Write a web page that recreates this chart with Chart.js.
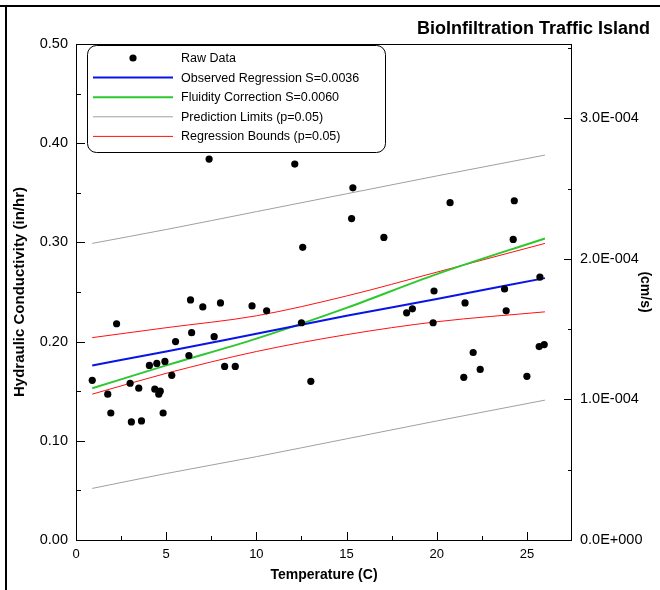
<!DOCTYPE html>
<html>
<head>
<meta charset="utf-8">
<script src="https://cdn.jsdelivr.net/npm/chart.js@4.4.1/dist/chart.umd.min.js"></script>
<style>
  html, body { margin: 0; padding: 0; background: #fff; }
  #wrap { width: 660px; height: 590px; }
</style>
</head>
<body>
<div id="wrap"><canvas id="chart" width="660" height="590"></canvas></div>
<script>
// raw measurements (temperature C, conductivity in/hr)
const tempC = [0.90, 1.76, 1.93, 2.25, 3.00, 3.07, 3.48, 3.63, 4.07, 4.37, 4.48, 4.59, 4.67, 4.83, 4.93,
  5.31, 5.52, 6.26, 6.35, 6.41, 7.03, 7.38, 7.66, 8.01, 8.24, 8.83, 9.76, 10.57, 12.13, 12.50, 12.57,
  13.02, 15.28, 15.35, 17.07, 18.33, 18.65, 19.80, 19.85, 20.74, 21.50, 21.57, 22.02, 22.41, 23.76,
  23.85, 24.24, 24.30, 25.00, 25.68, 25.72, 25.96];
const conductivity = [0.161, 0.147, 0.128, 0.218, 0.158, 0.119, 0.153, 0.120, 0.176, 0.152, 0.178, 0.147,
  0.150, 0.128, 0.180, 0.166, 0.200, 0.186, 0.242, 0.209, 0.235, 0.384, 0.205, 0.239, 0.175, 0.175,
  0.236, 0.231, 0.379, 0.219, 0.295, 0.160, 0.324, 0.355, 0.305, 0.229, 0.233, 0.219, 0.251, 0.340,
  0.164, 0.239, 0.189, 0.172, 0.253, 0.231, 0.303, 0.342, 0.165, 0.195, 0.265, 0.197];

// fitted curves, read at these temperatures
const curveTemps = [0.9, 5, 10, 15, 20, 26];
const observedFit = [0.176, 0.190, 0.208, 0.226, 0.243, 0.264];
const fluidityFit = [0.153, 0.176, 0.203, 0.234, 0.268, 0.304];
const predUpper = [0.299, 0.313, 0.331, 0.349, 0.367, 0.388];
const predLower = [0.052, 0.067, 0.084, 0.102, 0.120, 0.141];
const boundUpper = [0.204, 0.214, 0.226, 0.246, 0.270, 0.299];
const boundLower = [0.147, 0.168, 0.190, 0.207, 0.220, 0.230];

const seriesLabels = ['Raw Data', 'Observed Regression S=0.0036', 'Fluidity Correction S=0.0060',
  'Prediction Limits (p=0.05)', 'Regression Bounds (p=0.05)'];

const FONT = '"Liberation Sans", Arial, sans-serif';
const IN_HR_TO_CM_S = 2.54 / 3600;

function pts(xs, ys) {
  return xs.map((x, i) => ({ x: x, y: ys[i] }));
}

function sci(v) {
  if (Math.abs(v) < 1e-12) return '0.0E+000';
  const parts = v.toExponential(1).split('e');
  const n = parseInt(parts[1], 10);
  return parts[0] + 'E' + (n < 0 ? '-' : '+') + String(Math.abs(n)).padStart(3, '0');
}

function curve(label, data, color, width) {
  return {
    label: label, data: data, showLine: true, borderColor: color, borderWidth: width,
    pointRadius: 0, cubicInterpolationMode: 'monotone', fill: false
  };
}

const datasets = [
  {
    label: seriesLabels[0], data: pts(tempC, conductivity), backgroundColor: '#000',
    borderWidth: 0, pointRadius: 3.6, showLine: false
  },
  curve(seriesLabels[1], pts(curveTemps, observedFit), '#0a14e6', 2),
  curve(seriesLabels[2], pts(curveTemps, fluidityFit), '#2ec82e', 2),
  curve(seriesLabels[3], pts(curveTemps, predUpper), '#a0a0a0', 1),
  curve(null, pts(curveTemps, predLower), '#a0a0a0', 1),
  curve(seriesLabels[4], pts(curveTemps, boundUpper), '#ff1010', 1),
  curve(null, pts(curveTemps, boundLower), '#ff1010', 1)
];

// frame, inward tick marks, title
const decorations = {
  id: 'decorations',
  afterDraw(chart) {
    const ctx = chart.ctx;
    const a = chart.chartArea;
    const s = chart.scales;
    ctx.save();
    ctx.strokeStyle = '#000';

    ctx.lineWidth = 2;
    ctx.beginPath();
    ctx.moveTo(0, 6); ctx.lineTo(660, 6);
    ctx.moveTo(6, 6); ctx.lineTo(6, 590);
    ctx.stroke();

    ctx.lineWidth = 1;
    ctx.strokeRect(a.left + 0.5, a.top + 0.5, a.right - a.left - 1, a.bottom - a.top);

    ctx.beginPath();
    for (let i = 1; i <= 10; i++) {
      const p = Math.round(s.x.getPixelForValue(i * 2.5)) + 0.5;
      const len = i % 2 === 0 ? 8 : 4;
      ctx.moveTo(p, a.bottom); ctx.lineTo(p, a.bottom - len);
    }
    for (let i = 1; i <= 10; i++) {
      const p = Math.round(s.y.getPixelForValue(i * 0.05)) + 0.5;
      const len = i % 2 === 0 ? 9 : 5;
      ctx.moveTo(a.left, p); ctx.lineTo(a.left + len, p);
    }
    for (let i = 1; i <= 7; i++) {
      const p = Math.round(s.y2.getPixelForValue(i * 0.5e-4)) + 0.5;
      const len = i % 2 === 0 ? 8 : 4;
      ctx.moveTo(a.right, p); ctx.lineTo(a.right - len, p);
    }
    ctx.stroke();

    ctx.fillStyle = '#000';
    ctx.font = 'bold 18px ' + FONT;
    ctx.textAlign = 'right';
    ctx.textBaseline = 'middle';
    ctx.fillText('BioInfiltration Traffic Island', 650, 29);
    ctx.restore();
  }
};

// legend box inside the plot
const legendBox = {
  id: 'legendBox',
  afterDraw(chart) {
    const ctx = chart.ctx;
    const x = 87.5, y = 45.5, w = 298, h = 107, r = 9;
    ctx.save();
    ctx.beginPath();
    ctx.moveTo(x + r, y);
    ctx.arcTo(x + w, y, x + w, y + h, r);
    ctx.arcTo(x + w, y + h, x, y + h, r);
    ctx.arcTo(x, y + h, x, y, r);
    ctx.arcTo(x, y, x + w, y, r);
    ctx.closePath();
    ctx.fillStyle = '#fff';
    ctx.fill();
    ctx.strokeStyle = '#000';
    ctx.lineWidth = 1;
    ctx.stroke();

    ctx.font = '12.5px ' + FONT;
    ctx.textAlign = 'left';
    ctx.textBaseline = 'middle';
    let row = 0;
    chart.data.datasets.forEach(ds => {
      if (!ds.label) return;
      const ry = 58 + row * 19.6;
      if (ds.showLine) {
        ctx.strokeStyle = ds.borderColor;
        ctx.lineWidth = ds.borderWidth;
        ctx.beginPath();
        ctx.moveTo(93, ry); ctx.lineTo(173, ry);
        ctx.stroke();
      } else {
        ctx.fillStyle = ds.backgroundColor;
        ctx.beginPath();
        ctx.arc(133, ry, ds.pointRadius, 0, Math.PI * 2);
        ctx.fill();
      }
      ctx.fillStyle = '#000';
      ctx.fillText(ds.label, 181, ry + 0.5);
      row++;
    });
    ctx.restore();
  }
};

const xTickFont = { family: FONT, size: 13 };
const yTickFont = { family: FONT, size: 14.5 };
const titleFont = { family: FONT, size: 14, weight: 'bold' };

new Chart(document.getElementById('chart'), {
  type: 'scatter',
  data: { datasets: datasets },
  options: {
    responsive: false,
    animation: false,
    events: [],
    layout: { padding: { top: 44, left: 0, right: 0, bottom: 0 } },
    plugins: { legend: { display: false }, tooltip: { enabled: false }, title: { display: false } },
    scales: {
      x: {
        type: 'linear', min: 0, max: 27.5,
        ticks: { stepSize: 5, includeBounds: false, padding: 7, color: '#000', font: xTickFont, maxRotation: 0 },
        grid: { display: false, drawTicks: false }, border: { display: false },
        title: { display: true, text: 'Temperature (C)', color: '#000', font: titleFont, padding: { top: 0, bottom: 6.6 } },
        afterFit: sc => { sc.height = 50; }
      },
      y: {
        type: 'linear', position: 'left', min: 0, max: 0.5,
        ticks: { stepSize: 0.1, includeBounds: false, padding: 8, color: '#000', font: yTickFont,
          callback: v => v.toFixed(2) },
        grid: { display: false, drawTicks: false }, border: { display: false },
        title: { display: true, text: 'Hydraulic Conductivity (in/hr)', color: '#000', font: { family: FONT, size: 15, weight: 'bold' }, padding: { top: 11, bottom: 0 } },
        afterFit: sc => { sc.width = 76; }
      },
      y2: {
        type: 'linear', position: 'right', min: 0, max: 0.5 * IN_HR_TO_CM_S,
        ticks: { stepSize: 1e-4, includeBounds: false, padding: 8, color: '#000', font: yTickFont,
          callback: v => sci(v) },
        grid: { display: false, drawTicks: false }, border: { display: false },
        title: { display: true, text: '(cm/s)', color: '#000', font: titleFont, padding: { top: 6.6, bottom: 0 } },
        afterFit: sc => { sc.width = 88; }
      }
    }
  },
  plugins: [decorations, legendBox]
});
</script>
</body>
</html>
